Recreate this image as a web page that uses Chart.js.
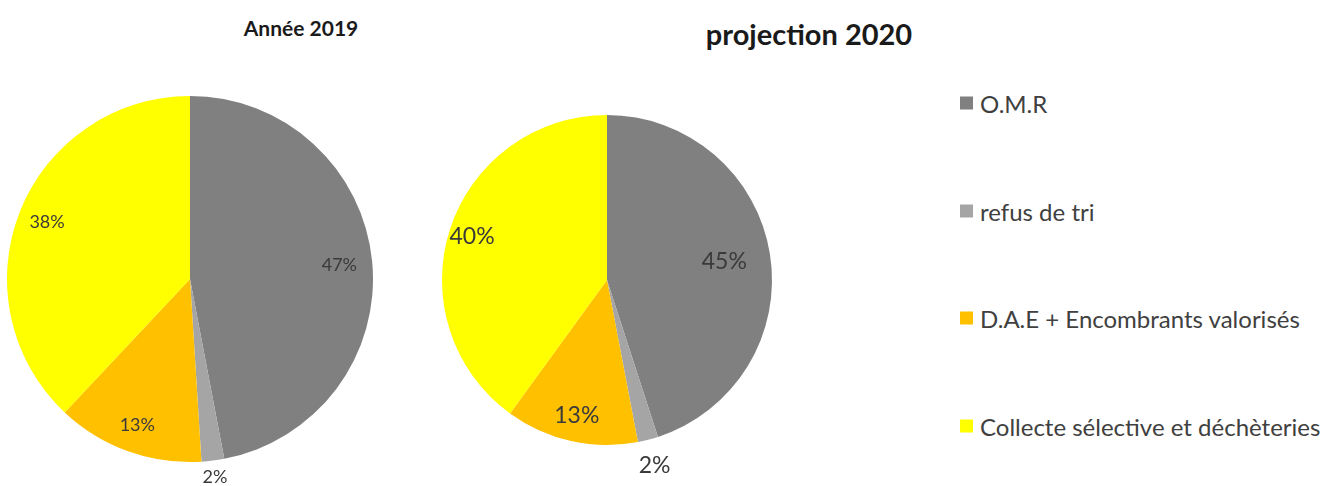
<!DOCTYPE html>
<html>
<head>
<meta charset="utf-8">
<script src="https://cdn.jsdelivr.net/npm/chart.js@4/dist/chart.umd.min.js"></script>
<style>
  html, body { margin: 0; padding: 0; background: #fff; }
  body { width: 1339px; height: 486px; position: relative; overflow: hidden; font-family: Lato, "Open Sans", sans-serif; }
  .titre { position: absolute; font-weight: bold; color: #1a1a1a; white-space: nowrap; transform: translate(-50%, -50%); }
  #t1 { left: 301px; top: 27px; font-size: 21px; }
  #t2 { left: 809px; top: 33px; font-size: 29px; }
  .wrap { position: absolute; }
  #w1 { left: 0; top: 80px; width: 380px; height: 406px; }
  #w2 { left: 420px; top: 80px; width: 374px; height: 406px; }
  #legende { position: absolute; left: 960px; top: 0; }
  .leg-item { position: absolute; left: 0; white-space: nowrap; font-size: 24px; color: #404040; display: flex; align-items: center; transform: translateY(-50%); }
  .leg-box { width: 13px; height: 13px; margin-right: 7px; }
</style>
</head>
<body>
<div class="titre" id="t1"></div>
<div class="titre" id="t2"></div>
<div class="wrap" id="w1"><canvas id="pie2019"></canvas></div>
<div class="wrap" id="w2"><canvas id="pie2020"></canvas></div>
<div id="legende"></div>
<script>
const categories = ["O.M.R", "refus de tri", "D.A.E + Encombrants valorisés", "Collecte sélective et déchèteries"];
const couleurs = ["#808080", "#a5a5a5", "#ffc000", "#ffff00"];
const valeurs2019 = [47, 2, 13, 38];
const valeurs2020 = [45, 2, 13, 40];
const titre2019 = "Année 2019";
const titre2020 = "projection 2020";

document.getElementById("t1").textContent = titre2019;
document.getElementById("t2").textContent = titre2020;

// legende a droite, une ligne par categorie
const legendeY = [103, 211, 318, 426];
const leg = document.getElementById("legende");
categories.forEach((c, i) => {
  const d = document.createElement("div");
  d.className = "leg-item";
  d.style.top = legendeY[i] + "px";
  d.innerHTML = `<span class="leg-box" style="background:${couleurs[i]}"></span><span>${c}</span>`;
  leg.appendChild(d);
});

// etiquettes en % : dedans pour les grosses parts, dehors pour les petites
const pctLabels = {
  id: "pctLabels",
  afterDatasetsDraw(chart, args, opts) {
    const ctx = chart.ctx;
    const meta = chart.getDatasetMeta(0);
    const data = chart.data.datasets[0].data;
    const total = data.reduce((a, b) => a + b, 0);
    ctx.save();
    ctx.fillStyle = "#3a3a3a";
    ctx.font = `${opts.size}px Lato, "Open Sans", sans-serif`;
    ctx.textAlign = "center";
    ctx.textBaseline = "middle";
    meta.data.forEach((arc, i) => {
      const p = arc.getProps(["x", "y", "startAngle", "endAngle", "outerRadius"], true);
      const mid = (p.startAngle + p.endAngle) / 2;
      const f = (opts.factors && opts.factors[i]) || 0.83;
      const r = p.outerRadius * f;
      const pct = Math.round(data[i] / total * 100) + "%";
      ctx.fillText(pct, p.x + Math.cos(mid) * r, p.y + Math.sin(mid) * r);
    });
    ctx.restore();
  },
};

function makePie(id, values, padding, labelSize, factors) {
  return new Chart(document.getElementById(id), {
    type: "pie",
    data: {
      labels: categories,
      datasets: [{
        data: values,
        backgroundColor: couleurs,
        borderWidth: 0,
        hoverBorderWidth: 0,
        hoverOffset: 0,
        offset: 0,
      }],
    },
    options: {
      responsive: true,
      maintainAspectRatio: false,
      animation: false,
      events: [],
      layout: { padding },
      plugins: {
        legend: { display: false },
        tooltip: { enabled: false },
        pctLabels: { size: labelSize, factors },
      },
    },
    plugins: [pctLabels],
  });
}

makePie("pie2019", valeurs2019, { left: 7, right: 7, top: 16, bottom: 24 }, 18, [0.82, 1.09, 0.85, 0.84]);
makePie("pie2020", valeurs2020, { left: 22, right: 22, top: 35, bottom: 41 }, 23, [0.72, 1.16, 0.84, 0.86]);
</script>
</body>
</html>
